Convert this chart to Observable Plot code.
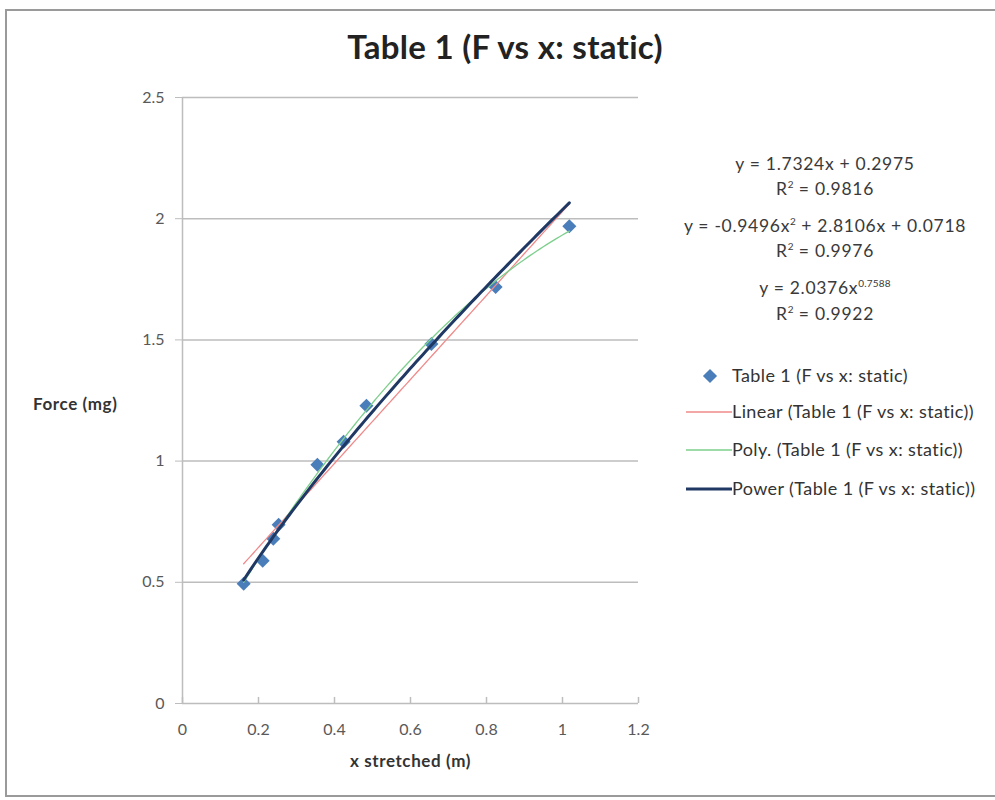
<!DOCTYPE html>
<html>
<head>
<meta charset="utf-8">
<script src="https://cdn.jsdelivr.net/npm/d3@7"></script>
<script src="https://cdn.jsdelivr.net/npm/@observablehq/plot@0.6"></script>
<style>
  html, body { margin: 0; padding: 0; background: #fff; overflow: hidden; }
  #wrap { position: relative; width: 995px; height: 800px; font-family: Lato, "Open Sans", sans-serif; overflow: hidden; }
  #frame { position: absolute; left: 5px; top: 9px; width: 1040px; height: 788px; border: 2px solid #9a9a9a; border-right: none; box-sizing: border-box; }
  #chart { position: absolute; left: 0; top: 0; }
  .txt { position: absolute; white-space: nowrap; color: #333; }
  #title { left: 0; width: 1010px; top: 26px; text-align: center; font-size: 33px; font-weight: bold; color: #222; letter-spacing: 0.3px; }
  #ylabel { left: 33px; top: 393px; font-size: 17px; font-weight: bold; color: #333; letter-spacing: 0.6px; }
  .eq { left: 665px; width: 320px; text-align: center; font-size: 17.5px; color: #3a3a3a; letter-spacing: 0.7px; }
  .eq sup { font-size: 10px; letter-spacing: 0.2px; }
  .leg { left: 732px; font-size: 18px; color: #333; letter-spacing: 0.4px; }
</style>
</head>
<body>
<div id="wrap">
  <div id="frame"></div>
  <div id="chart"></div>
  <div id="title" class="txt"></div>
  <div id="ylabel" class="txt"></div>
  <div id="eqs"></div>
  <div id="legend"></div>
</div>
<script>
// ---- data ----
const xStretched = [0.161, 0.211, 0.239, 0.253, 0.355, 0.424, 0.484, 0.655, 0.824, 1.018];
const forceMg    = [0.494, 0.589, 0.680, 0.737, 0.985, 1.080, 1.228, 1.483, 1.718, 1.969];
const xTicks = [0, 0.2, 0.4, 0.6, 0.8, 1, 1.2];
const yTicks = [0, 0.5, 1, 1.5, 2, 2.5];
const seriesName = "Table 1 (F vs x: static)";
const titleText = "Table 1 (F vs x: static)";
const xLabel = "x stretched (m)";
const yLabel = "Force (mg)";
// trendline coefficients as printed on the chart
const linearCoef = [1.7324, 0.2975];          // slope, intercept
const polyCoef = [-0.9496, 2.8106, 0.0718];   // a, b, c
const powerCoef = [2.0376, 0.7588];           // a, exponent
const rSquared = [0.9816, 0.9976, 0.9922];
const legendNames = [seriesName, "Linear (" + seriesName + ")", "Poly. (" + seriesName + ")", "Power (" + seriesName + ")"];

const colors = { marker: "#4a7ebb", linear: "#f08a8a", poly: "#7dcf8c", power: "#1f3864" };

const pts = xStretched.map((x, i) => ({ x, y: forceMg[i] }));
const xmin = d3.min(xStretched), xmax = d3.max(xStretched);
const xs = d3.range(0, 101).map(i => xmin + (xmax - xmin) * i / 100);
const linear = xs.map(x => ({ x, y: linearCoef[0] * x + linearCoef[1] }));
const poly = xs.map(x => ({ x, y: polyCoef[0] * x * x + polyCoef[1] * x + polyCoef[2] }));
const power = xs.map(x => ({ x, y: powerCoef[0] * Math.pow(x, powerCoef[1]) }));

const chart = Plot.plot({
  width: 995,
  height: 800,
  marginLeft: 182,
  marginRight: 357,
  marginTop: 97,
  marginBottom: 97,
  style: { fontFamily: "Lato, 'Open Sans', sans-serif", fontSize: "16px", color: "#595959", background: "transparent" },
  x: { domain: [0, 1.2] },
  y: { domain: [0, 2.5] },
  marks: [
    Plot.gridY(yTicks, { stroke: "#bdbdbd", strokeOpacity: 1, strokeWidth: 1.5 }),
    Plot.ruleX([0], { y1: 0, y2: 2.5, stroke: "#bdbdbd", strokeWidth: 1.5 }),
    Plot.axisY(yTicks, { tickSize: 7, tickPadding: 11, stroke: "#bdbdbd", fill: "#595959", fontSize: 16, tickFormat: d => String(d), label: null }),
    Plot.ruleX(xTicks, { x: d => d, y1: 0, y2: 0.025, stroke: "#bdbdbd", strokeWidth: 1.5 }),
    Plot.axisX(xTicks, { tickSize: 0, tickPadding: 20, fill: "#595959", fontSize: 16, tickFormat: d => String(d), label: xLabel, labelAnchor: "center", labelArrow: "none", labelOffset: 63 }),
    Plot.dot(pts, { x: "x", y: "y", symbol: "square", rotate: 45, r: 5.6, fill: colors.marker, stroke: null }),
    Plot.line(linear, { x: "x", y: "y", stroke: colors.linear, strokeWidth: 1.3 }),
    Plot.line(poly, { x: "x", y: "y", stroke: colors.poly, strokeWidth: 1.3 }),
    Plot.line(power, { x: "x", y: "y", stroke: colors.power, strokeWidth: 3 })
  ]
});
document.getElementById("chart").appendChild(chart);
// style the x-axis label bold and dark
chart.querySelectorAll("[aria-label='x-axis label']").forEach(el => {
  el.setAttribute("font-weight", "bold"); el.setAttribute("fill", "#333");
  el.setAttribute("font-size", "17"); el.setAttribute("letter-spacing", "0.6");
});

document.getElementById("title").textContent = titleText;
document.getElementById("ylabel").textContent = yLabel;

// equations
const fmt = v => v.toFixed(4);
const eqLines = [
  { top: 153, html: `y = ${fmt(linearCoef[0])}x + ${fmt(linearCoef[1])}` },
  { top: 178, html: `R<sup>2</sup> = ${fmt(rSquared[0])}` },
  { top: 215, html: `y = ${fmt(polyCoef[0])}x<sup>2</sup> + ${fmt(polyCoef[1])}x + ${fmt(polyCoef[2])}` },
  { top: 240, html: `R<sup>2</sup> = ${fmt(rSquared[1])}` },
  { top: 277, html: `y = ${fmt(powerCoef[0])}x<sup>${fmt(powerCoef[1])}</sup>` },
  { top: 303, html: `R<sup>2</sup> = ${fmt(rSquared[2])}` }
];
const eqs = document.getElementById("eqs");
eqLines.forEach(l => {
  const d = document.createElement("div");
  d.className = "txt eq"; d.style.top = l.top + "px"; d.innerHTML = l.html;
  eqs.appendChild(d);
});

// legend
const legend = document.getElementById("legend");
const legTops = [364, 400, 438, 477];
const legStyles = [null, { c: colors.linear, w: 1.3 }, { c: colors.poly, w: 1.3 }, { c: colors.power, w: 3 }];
legendNames.forEach((name, i) => {
  const t = document.createElement("div");
  t.className = "txt leg"; t.style.top = legTops[i] + "px"; t.textContent = name;
  legend.appendChild(t);
  const sw = document.createElementNS("http://www.w3.org/2000/svg", "svg");
  sw.setAttribute("width", 50); sw.setAttribute("height", 20);
  sw.style.position = "absolute"; sw.style.left = "684px"; sw.style.top = (legTops[i] + 2) + "px";
  if (i === 0) {
    const r = document.createElementNS("http://www.w3.org/2000/svg", "rect");
    r.setAttribute("x", -5); r.setAttribute("y", -5); r.setAttribute("width", 10); r.setAttribute("height", 10);
    r.setAttribute("fill", colors.marker);
    r.setAttribute("transform", "translate(26,10) rotate(45)");
    sw.appendChild(r);
  } else {
    const ln = document.createElementNS("http://www.w3.org/2000/svg", "line");
    ln.setAttribute("x1", 2); ln.setAttribute("x2", 48); ln.setAttribute("y1", 10); ln.setAttribute("y2", 10);
    ln.setAttribute("stroke", legStyles[i].c); ln.setAttribute("stroke-width", legStyles[i].w);
    sw.appendChild(ln);
  }
  legend.appendChild(sw);
});
</script>
</body>
</html>
